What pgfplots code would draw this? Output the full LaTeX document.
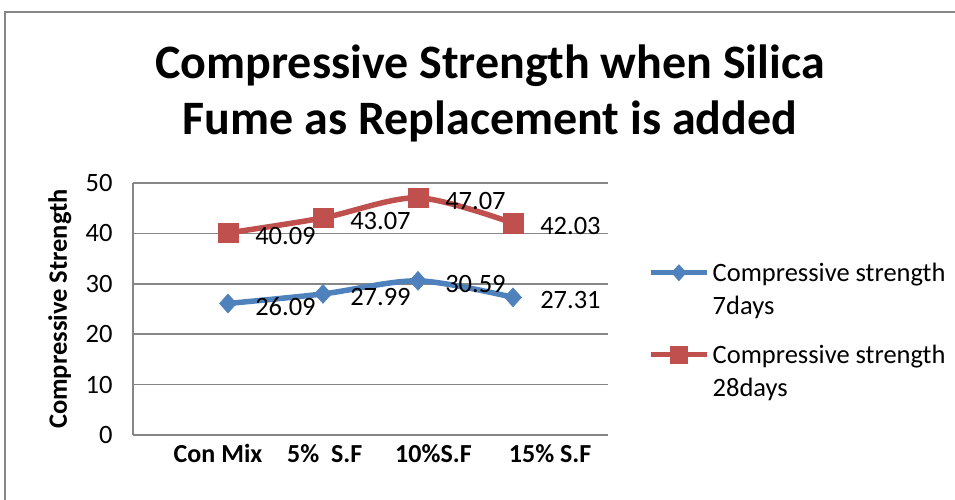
\documentclass[border=0pt]{standalone}
\usepackage{fontspec}
\setmainfont{Carlito}
\usepackage{pgfplots}
\pgfplotsset{compat=1.18}
\definecolor{exblue}{HTML}{4F81BD}
\definecolor{exred}{HTML}{C0504D}
\definecolor{exgrid}{HTML}{868686}
\begin{document}
\begin{tikzpicture}
\path[use as bounding box] (0,0) rectangle (955bp,500bp);
\draw[exgrid, line width=1.5bp] (5bp,0) -- (5bp,488bp) -- (955bp,488bp);
\begin{axis}[
  at={(133bp,65bp)}, anchor=south west,
  scale only axis, width=475bp, height=252bp,
  xmin=-1, xmax=4, ymin=0, ymax=50,
  ytick={0,10,...,50},
  xtick={-0.105,1.018,2.163,3.391},
  xticklabels={Con Mix, 5\%\ \ S.F, 10\%S.F, 15\% S.F},
  major tick length=0pt,
  axis x line*=bottom, axis y line*=left,
  axis line style={exgrid, line width=1.6bp},
  ymajorgrids, grid style={exgrid, line width=1.6bp},
  clip=false,
  /pgf/number format/assume math mode=true,
  tick label style={font=\fontsize{26.5bp}{31bp}\selectfont},
  xticklabel style={font=\bfseries\fontsize{26bp}{31bp}\selectfont, yshift=-6bp},
  yticklabel style={xshift=-17bp},
  every axis y label/.style={at={(axis description cs:-0.154,0.5)}, rotate=90, anchor=center, font=\bfseries\fontsize{26.5bp}{31bp}\selectfont},
  ylabel={Compressive Strength},
  title={Compressive Strength when Silica\\Fume as Replacement is added},
  title style={at={(axis description cs:0.7516,1)}, anchor=south, align=center, inner sep=0pt, font=\bfseries\fontsize{48bp}{56bp}\selectfont, yshift=35bp},
  nodes near coords,
  point meta=explicit symbolic,
  nodes near coords style={anchor=west, xshift=27bp, yshift=-3bp, inner sep=0pt, text=black, font=\fontsize{26.5bp}{31bp}\selectfont},
  legend style={at={(axis description cs:1.0842,0.6825)}, anchor=north west, draw=none, fill=none, inner sep=0pt, row sep=9bp, column sep=3bp, cells={anchor=base west}, nodes={inner sep=0pt, text height=18bp, text depth=6bp, font=\fontsize{26.5bp}{31bp}\selectfont}},
  legend image code/.code={\draw[mark repeat=2, mark phase=2, #1, every mark/.append style={scale=0.85}] plot coordinates {(0bp,8.5bp) (28bp,8.5bp) (56bp,8.5bp)};},
]
\addplot[exblue, line width=5.5bp, smooth, tension=0.5, mark=diamond*, mark size=9.5bp,
  mark options={solid, fill=exblue, draw=exblue, line width=0.5bp, xscale=1.2}]
  coordinates {(0,26.09)[26.09] (1,27.99)[27.99] (2,30.59)[30.59] (3,27.31)[27.31]};
\addlegendentry{Compressive strength}
\addlegendimage{empty legend}
\addlegendentry[text depth=22bp]{7days}
\addplot[exred, line width=5.5bp, smooth, tension=0.5, mark=square*, mark size=9.75bp,
  mark options={solid, fill=exred, draw=exred, line width=0.5bp}]
  coordinates {(0,40.09)[40.09] (1,43.07)[43.07] (2,47.07)[47.07] (3,42.03)[42.03]};
\addlegendentry{Compressive strength}
\addlegendimage{empty legend}
\addlegendentry{28days}
\end{axis}
\end{tikzpicture}
\end{document}
